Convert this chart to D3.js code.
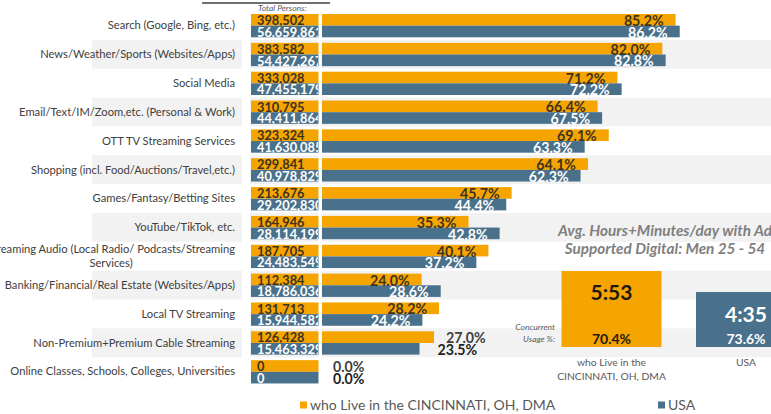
<!DOCTYPE html>
<html><head><meta charset="utf-8">
<script src="https://cdn.jsdelivr.net/npm/d3@7"></script>
<style>
html,body{margin:0;padding:0;background:#fff;}
svg{display:block;font-family:Lato,"Open Sans",sans-serif;}
</style></head>
<body><svg id="c" width="771" height="414"></svg>
<script>
const categories = [
  "Search (Google, Bing, etc.)",
  "News/Weather/Sports (Websites/Apps)",
  "Social Media",
  "Email/Text/IM/Zoom,etc. (Personal & Work)",
  "OTT TV Streaming Services",
  "Shopping (incl. Food/Auctions/Travel,etc.)",
  "Games/Fantasy/Betting Sites",
  "YouTube/TikTok, etc.",
  "Streaming Audio (Local Radio/ Podcasts/Streaming|Services)",
  "Banking/Financial/Real Estate (Websites/Apps)",
  "Local TV Streaming",
  "Non-Premium+Premium Cable Streaming",
  "Online Classes, Schools, Colleges, Universities"
];
const localPct = [85.2, 82.0, 71.2, 66.4, 69.1, 64.1, 45.7, 35.3, 40.1, 24.0, 28.2, 27.0, 0.0];
const usaPct   = [86.2, 82.8, 72.2, 67.5, 63.3, 62.3, 44.4, 42.8, 37.2, 28.6, 24.2, 23.5, 0.0];
const localPersons = [398502, 383582, 333028, 310795, 323324, 299841, 213676, 164946, 187705, 112384, 131713, 126428, 0];
const usaPersons   = [56659861, 54427267, 47455179, 44411864, 41630085, 40978829, 29202830, 28114199, 24483549, 18786036, 15944582, 15463329, 0];
const outsideLabelRows = ["Non-Premium+Premium Cable Streaming", "Online Classes, Schools, Colleges, Universities"];
const seriesKeys = ["local", "usa"];
const seriesNames = ["who Live in the CINCINNATI, OH, DMA", "USA"];
const hoursLabels = ["5:53", "4:35"];
const hoursMinutes = [353, 275];
const concurrentPct = [70.4, 73.6];
const boxCategoryLines = [["who Live in the", "CINCINNATI, OH, DMA"], ["USA"]];

const ORANGE = "#F5A400", BLUE = "#4A718C", BAND = "#F2F2F2", DARK = "#404040";
const svg = d3.select("#c");
const fmt = d3.format(",");
const pfmt = d3.format(".1f");

const rows = categories.map((c, i) => ({
  cat: c, i,
  vals: [
    {key: "local", pct: localPct[i], persons: localPersons[i]},
    {key: "usa", pct: usaPct[i], persons: usaPersons[i]}
  ]
}));

const y = d3.scaleBand().domain(categories).range([11, 386]);
const sub = d3.scaleBand().domain(seriesKeys).range([3, 26.3]);
const x = d3.scaleLinear().domain([0, 100]).range([322, 737]);
const color = d3.scaleOrdinal().domain(seriesKeys).range([ORANGE, BLUE]);

// title underline fragment (title cut off above)
svg.append("line").attr("x1", 202).attr("x2", 330).attr("y1", 3).attr("y2", 3)
  .attr("stroke", "#404040").attr("stroke-width", 1.5);

// alternating bands
const banded = rows.filter(r => r.i % 2 === 1);
svg.append("g").selectAll("rect.bl").data(banded).join("rect")
  .attr("x", 92).attr("width", 150).attr("y", d => y(d.cat)).attr("height", y.bandwidth())
  .attr("fill", BAND);
svg.append("g").selectAll("rect.br").data(banded).join("rect")
  .attr("x", 250).attr("width", 521).attr("y", d => y(d.cat)).attr("height", y.bandwidth())
  .attr("fill", BAND);

// category labels
const catG = svg.append("g").attr("font-size", 11.2).attr("fill", DARK);
rows.forEach(r => {
  const lines = r.cat.split("|");
  const cy = y(r.cat) + y.bandwidth() / 2;
  if (lines.length === 1) {
    catG.append("text").attr("x", 235).attr("y", cy).attr("dy", "0.35em")
      .attr("text-anchor", "end").text(lines[0]);
  } else {
    const t1 = catG.append("text").attr("x", 235).attr("y", cy - 7).attr("dy", "0.35em")
      .attr("text-anchor", "end").text(lines[0]);
    const w = t1.node().getComputedTextLength();
    catG.append("text").attr("x", 235 - w / 2).attr("y", cy + 7).attr("dy", "0.35em")
      .attr("text-anchor", "middle").text(lines[1]);
  }
});

// Total persons header
svg.append("text").attr("x", 258).attr("y", 11).attr("font-size", 8.5)
  .attr("font-style", "italic").attr("fill", "#595959").text("Total Persons:");

// number column
svg.append("clipPath").attr("id", "numclip").append("rect")
  .attr("x", 251).attr("y", 0).attr("width", 67).attr("height", 414);
const numG = svg.append("g");
rows.forEach(r => {
  r.vals.forEach(v => {
    const top = y(r.cat) + sub(v.key);
    numG.append("rect").attr("x", 251).attr("width", 68).attr("y", top)
      .attr("height", sub.bandwidth()).attr("fill", color(v.key));
    numG.append("text").attr("clip-path", "url(#numclip)")
      .attr("x", 257).attr("y", top + sub.bandwidth() - 0.6)
      .attr("font-size", 12.8).attr("font-weight", 700)
      .attr("fill", v.key === "local" ? "#3d3320" : "#fff")
      .text(fmt(v.persons));
  });
});
// separator
svg.append("rect").attr("x", 318.5).attr("y", 11).attr("width", 3).attr("height", 375).attr("fill", "#fff");

// main bars
const barG = svg.append("g");
rows.forEach(r => {
  const outside = outsideLabelRows.includes(r.cat);
  r.vals.forEach(v => {
    const top = y(r.cat) + sub(v.key);
    barG.append("rect").attr("x", x(0)).attr("y", top)
      .attr("width", x(v.pct) - x(0)).attr("height", sub.bandwidth())
      .attr("fill", color(v.key));
  });
  r.vals.forEach(v => {
    const top = y(r.cat) + sub(v.key);
    const t = barG.append("text").attr("y", top + sub.bandwidth() + 0.3)
      .attr("font-size", 14.2).attr("font-weight", 700).text(pfmt(v.pct) + "%");
    if (outside) {
      t.attr("x", x(v.pct) + (v.pct > 0 ? (v.key === "local" ? 12 : 18) : 11))
        .attr("text-anchor", "start").attr("fill", v.key === "local" ? "#404040" : "#222");
    } else {
      t.attr("x", x(v.pct) - 12).attr("text-anchor", "end")
        .attr("fill", v.key === "local" ? "#3d3320" : "#fff");
    }
  });
});

// right panel: avg hours
const panelG = svg.append("g");
panelG.append("text").attr("x", 665).attr("y", 236).attr("text-anchor", "middle")
  .attr("font-size", 15.3).attr("font-weight", 700).attr("font-style", "italic").attr("fill", "#7f7f7f")
  .text("Avg. Hours+Minutes/day with Ad");
panelG.append("text").attr("x", 665).attr("y", 254).attr("text-anchor", "middle")
  .attr("font-size", 15.3).attr("font-weight", 700).attr("font-style", "italic").attr("fill", "#7f7f7f")
  .text("Supported Digital: Men 25 - 54");

const bx = d3.scalePoint().domain(seriesKeys).range([611.5, 746]);
const bw = 100;
const hy = d3.scaleLinear().domain([71, 353]).range([347, 271]);
seriesKeys.forEach((k, i) => {
  panelG.append("rect").attr("x", bx(k) - bw / 2).attr("width", bw)
    .attr("y", hy(hoursMinutes[i])).attr("height", hy(71) - hy(hoursMinutes[i]))
    .attr("fill", color(k));
  const tc = k === "local" ? "#1f1a10" : "#fff";
  panelG.append("text").attr("x", bx(k)).attr("y", k === "local" ? 300 : 322)
    .attr("text-anchor", "middle").attr("font-size", 21).attr("font-weight", 700)
    .attr("fill", tc).text(hoursLabels[i]);
  panelG.append("text").attr("x", bx(k)).attr("y", 344)
    .attr("text-anchor", "middle").attr("font-size", 14).attr("font-weight", 700)
    .attr("fill", tc).text(pfmt(concurrentPct[i]) + "%");
  boxCategoryLines[i].forEach((ln, j) => {
    panelG.append("text").attr("x", bx(k)).attr("y", 366 + j * 14)
      .attr("text-anchor", "middle").attr("font-size", 10.3).attr("fill", "#595959").text(ln);
  });
});
panelG.append("text").attr("x", 555).attr("y", 330).attr("text-anchor", "end")
  .attr("font-size", 8.5).attr("font-style", "italic").attr("fill", "#595959").text("Concurrent");
panelG.append("text").attr("x", 555).attr("y", 342).attr("text-anchor", "end")
  .attr("font-size", 8.5).attr("font-style", "italic").attr("fill", "#595959").text("Usage %:");

// legend
const legX = [300, 658];
const legG = svg.append("g");
seriesKeys.forEach((k, i) => {
  legG.append("rect").attr("x", legX[i]).attr("y", 401.5).attr("width", 7).attr("height", 7).attr("fill", color(k));
  legG.append("text").attr("x", legX[i] + 10).attr("y", 409.5).attr("font-size", 14)
    .attr("fill", "#595959").text(seriesNames[i]);
});
</script></body></html>
